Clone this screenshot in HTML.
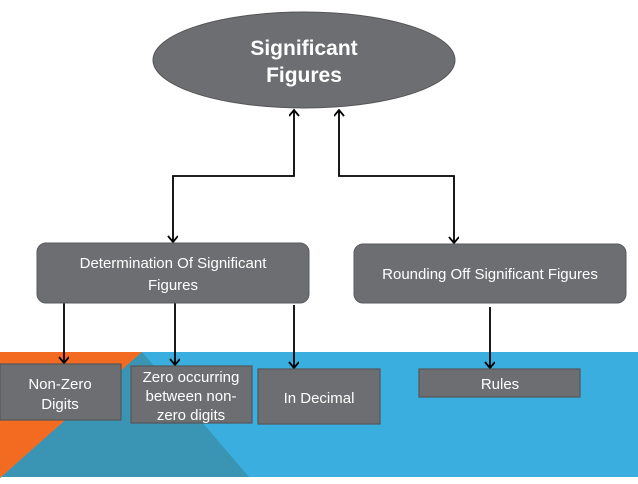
<!DOCTYPE html>
<html><head><style>
body{margin:0;width:638px;height:479px;overflow:hidden;background:#fff;}
svg text{font-family:"Liberation Sans",Arial,sans-serif;}
</style></head><body>
<svg width="638" height="479" viewBox="0 0 638 479" xmlns="http://www.w3.org/2000/svg">
<defs>
<marker id="d" markerWidth="12" markerHeight="12" refX="9" refY="5" orient="auto-start-reverse" markerUnits="userSpaceOnUse"><path d="M3,0 L9,5 L3,10" fill="none" stroke="#000" stroke-width="1.8"/></marker></defs>
<rect x="0" y="352" width="638" height="125" fill="#3aaedf"/>
<polygon points="0,352 142,352 0,478" fill="#f26b21"/>
<polygon points="142,352 249,477 0,477 0,478" fill="#3a94b4"/>
<ellipse cx="304" cy="60" rx="151" ry="48" fill="#6d6e71" stroke="#555" stroke-width="1"/>
<text x="304" y="55" font-size="21" font-weight="bold" fill="#fff" text-anchor="middle">Significant</text>
<text x="304" y="82" font-size="21" font-weight="bold" fill="#fff" text-anchor="middle">Figures</text>
<g fill="none" stroke="#000" stroke-width="1.8">
<path d="M294,110 V176 H173 V242" marker-end="url(#d)" marker-start="url(#d)"/>
<path d="M339,110 V176 H454 V243" marker-end="url(#d)" marker-start="url(#d)"/>
<path d="M64,303 V363" marker-end="url(#d)"/>
<path d="M175,303 V365" marker-end="url(#d)"/>
<path d="M294,305 V368" marker-end="url(#d)"/>
<path d="M490,307 V368" marker-end="url(#d)"/>
</g>
<rect x="37" y="243" width="272" height="60" rx="9" fill="#6d6e71" stroke="#5a5b5e"/>
<text x="173" y="268" font-size="15" fill="#fff" text-anchor="middle">Determination Of Significant</text>
<text x="173" y="290" font-size="15" fill="#fff" text-anchor="middle">Figures</text>
<rect x="354" y="244" width="272" height="59" rx="9" fill="#6d6e71" stroke="#5a5b5e"/>
<text x="490" y="279" font-size="15" fill="#fff" text-anchor="middle">Rounding Off Significant Figures</text>
<g fill="#6d6e71" stroke="#55565a" stroke-width="1.2">
<rect x="0" y="364" width="121" height="56"/>
<rect x="131" y="366" width="121" height="57"/>
<rect x="258" y="369" width="122" height="55"/>
<rect x="419" y="369" width="161" height="28"/>
</g>
<g font-size="15" fill="#fff" text-anchor="middle">
<text x="60" y="389">Non-Zero</text><text x="60" y="409">Digits</text>
<text x="191" y="382">Zero occurring</text><text x="191" y="401">between non-</text><text x="191" y="420">zero digits</text>
<text x="319" y="403">In Decimal</text>
<text x="500" y="389">Rules</text>
</g>
</svg>
</body></html>
